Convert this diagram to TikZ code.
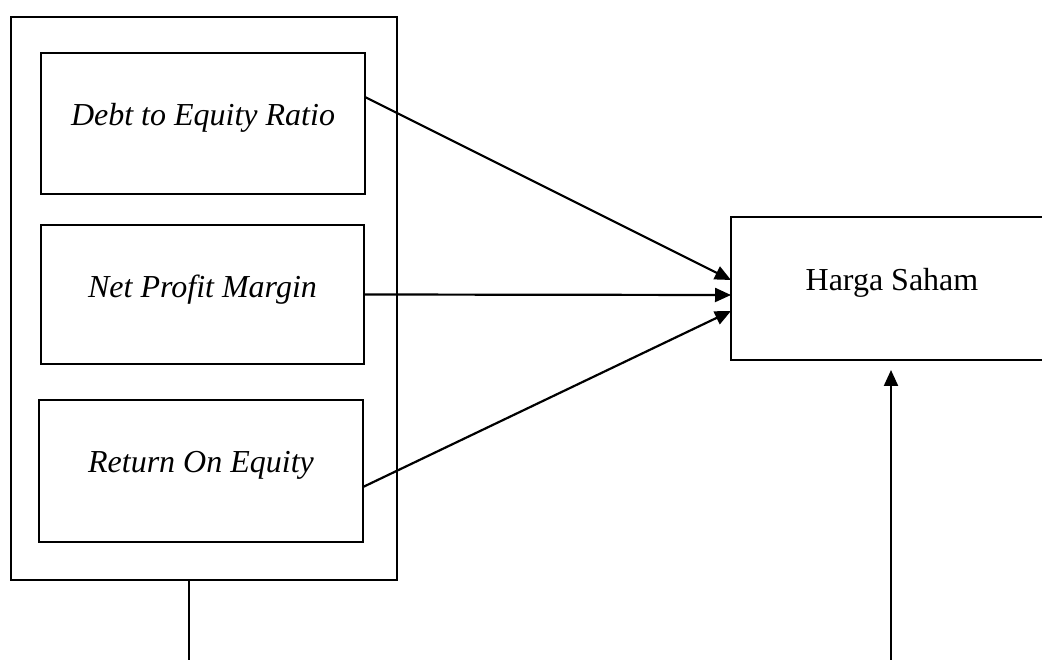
\documentclass[tikz,border=0pt]{standalone}
\usepackage{fontspec}
\setmainfont{Liberation Serif}
\usetikzlibrary{arrows.meta}
\begin{document}
\begin{tikzpicture}[x=1pt,y=-1pt,line width=2.2pt,
  boxnode/.style={draw,inner sep=0pt,outer sep=0pt},
  txt/.style={anchor=base,inner sep=0pt,font=\fontsize{32}{38}\selectfont},
  conn/.style={-{Triangle[length=16pt,width=14pt]},line width=2.2pt}]
\clip (0,0) rectangle (1042,660);
\node[boxnode,minimum width=386pt,minimum height=563pt] (outer) at (204,298.5) {};
\node[boxnode,minimum width=324pt,minimum height=141pt] (der) at (203,123.5) {};
\node[boxnode,minimum width=323pt,minimum height=139pt] (npm) at (202.5,294.5) {};
\node[boxnode,minimum width=324pt,minimum height=142pt] (roe) at (201,471) {};
\node[boxnode,minimum width=322pt,minimum height=143pt] (hs) at (892,288.5) {};
\node[txt] (tder) at (203,126) {\itshape Debt to Equity Ratio};
\node[txt] (tnpm) at (202.5,298) {\itshape Net Profit Margin};
\node[txt] (troe) at (201,472) {\itshape Return On Equity};
\node[txt] (ths) at (892,291) {Harga Saham};
\draw[conn] ([yshift=26.5pt]der.east) -- ([yshift=8.5pt]hs.west);
\draw[conn] (npm.east) -- ([yshift=-6.5pt]hs.west);
\draw[conn] ([yshift=-16pt]roe.east) -- ([yshift=-22.5pt]hs.west);
\coordinate (lb) at (189,665);
\coordinate (rb) at (891,665);
\draw (outer.south -| lb) -- (lb);
\draw[conn] (rb) -- ([yshift=-10pt]hs.south -| rb);
\end{tikzpicture}
\end{document}
